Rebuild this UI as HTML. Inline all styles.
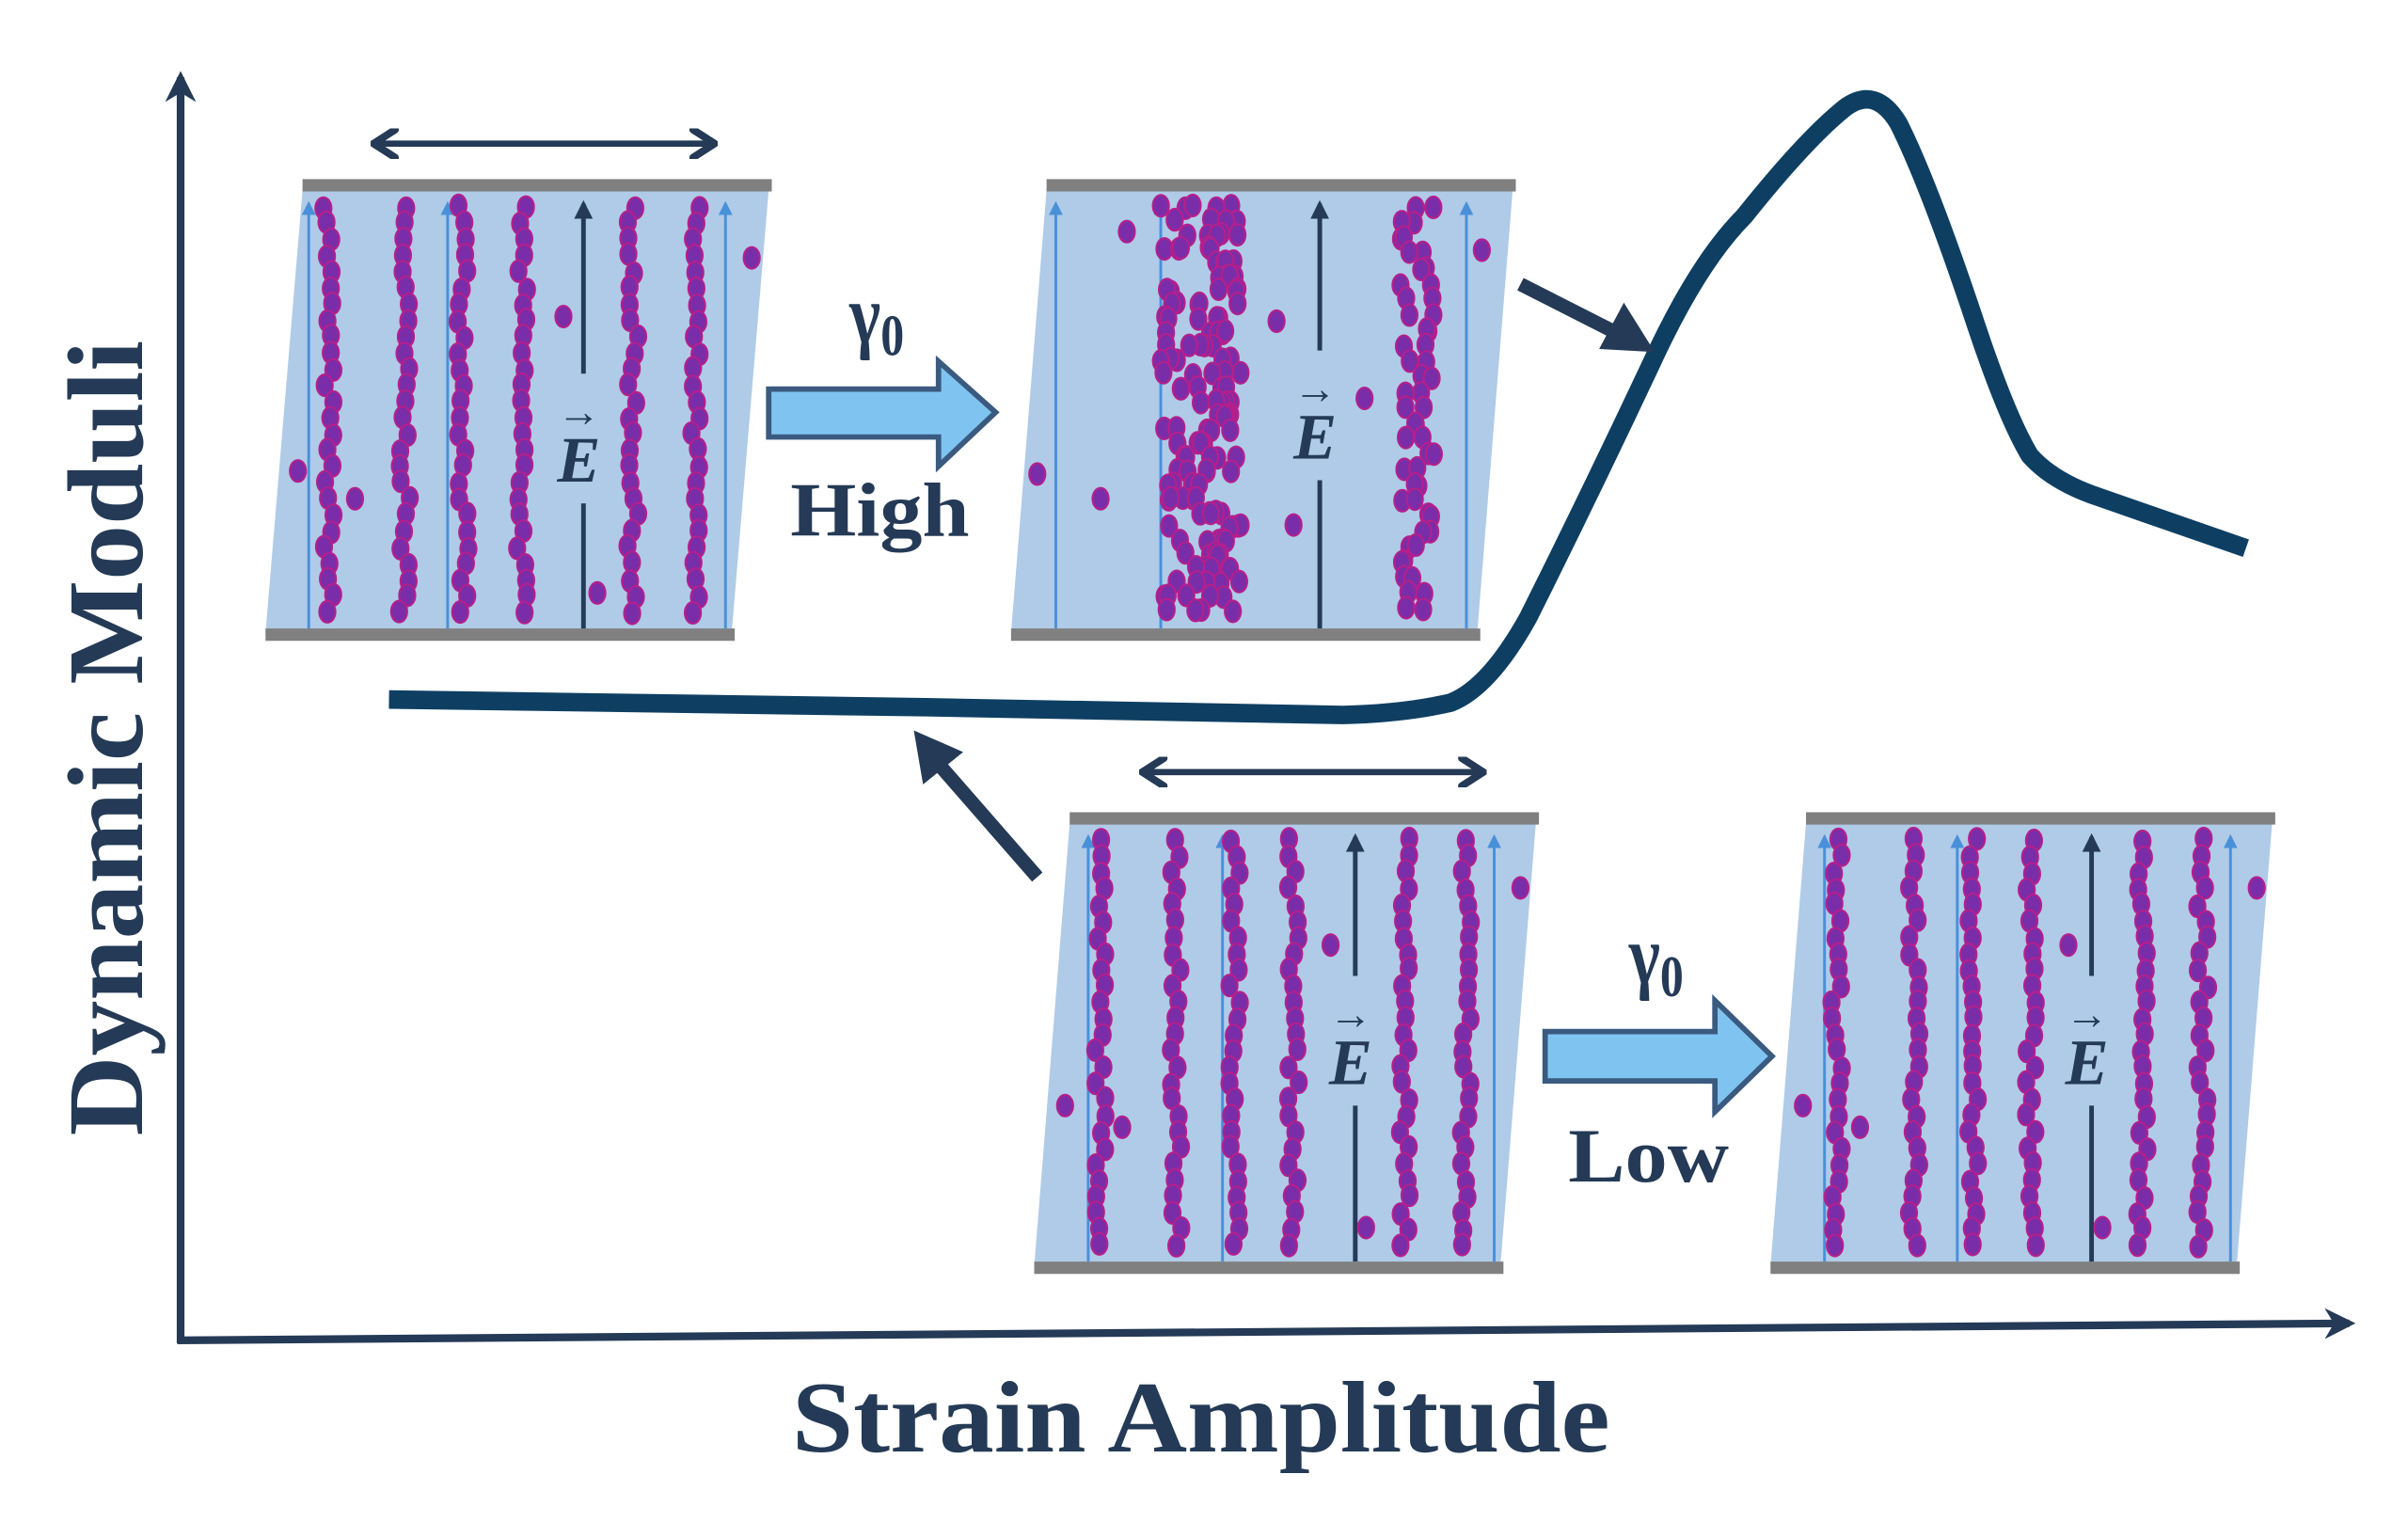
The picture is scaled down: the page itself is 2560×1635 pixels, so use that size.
<!DOCTYPE html>
<html><head><meta charset="utf-8"><style>
html,body{margin:0;padding:0;background:#fff;width:2560px;height:1635px;overflow:hidden}
svg{display:block}
text{font-family:"Liberation Serif",serif;font-weight:bold;fill:#243a56}
</style></head><body>
<svg id="s" width="2560" height="1635" viewBox="0 0 1560 996" preserveAspectRatio="none" xmlns="http://www.w3.org/2000/svg">
<defs>
<marker id="ah" viewBox="0 0 10 10" refX="8" refY="5" markerWidth="4" markerHeight="4" orient="auto-start-reverse"><path d="M0,0 L10,5 L0,10 L3,5 z" fill="#243a56"/></marker>
<marker id="da" viewBox="0 0 10 10" refX="9" refY="5" markerWidth="5" markerHeight="5" orient="auto-start-reverse"><path d="M2,0.5 L9,5 L2,9.5" fill="none" stroke="#243a56" stroke-width="2.4" stroke-linecap="round"/></marker>
<marker id="bl" viewBox="0 0 10 10" refX="8" refY="5" markerWidth="5" markerHeight="5" orient="auto"><path d="M0,0 L10,5 L0,10 z" fill="#4a90d9"/></marker>
<marker id="bk" viewBox="0 0 10 10" refX="8" refY="5" markerWidth="4" markerHeight="4" orient="auto"><path d="M0,0 L10,5 L0,10 z" fill="#243a56"/></marker>
</defs>
<line x1="117" y1="870" x2="117" y2="50" stroke="#243a56" stroke-width="5" marker-end="url(#ah)"/>
<line x1="115" y1="868" x2="1522" y2="857" stroke="#243a56" stroke-width="5" marker-end="url(#ah)"/>
<text transform="translate(92,478) rotate(-90)" text-anchor="middle" font-size="70" textLength="515" lengthAdjust="spacingAndGlyphs">Dynamic Moduli</text>
<text x="778" y="940" text-anchor="middle" font-size="66" textLength="530" lengthAdjust="spacingAndGlyphs">Strain Amplitude</text>
<g id="boxes"></g>
<path d="M252,453 L600,458 L870,463 Q910,462 940,455 Q965,445 990,400 Q1030,320 1070,235 Q1100,170 1130,140 Q1170,90 1195,70 Q1215,55 1230,80 Q1250,120 1280,210 Q1300,270 1315,295 Q1330,312 1360,322 L1455,355" fill="none" stroke="#0e3f63" stroke-width="12" stroke-linejoin="round"/>
<path d="M498,252 L608,252 L608,234 L645,267 L608,302 L608,283 L498,283 Z" fill="#7fc4f0" stroke="#3a5a80" stroke-width="3.5"/>
<path d="M1001,668 L1111,668 L1111,648 L1148,684 L1111,720 L1111,700 L1001,700 Z" fill="#7fc4f0" stroke="#3a5a80" stroke-width="3.5"/>
<text x="568" y="222" text-anchor="middle" font-size="54" transform="translate(568,0) scale(0.8,1) translate(-568,0)">γ<tspan font-size="38" dy="8">0</tspan></text>
<text x="570" y="347" text-anchor="middle" font-size="50" textLength="116" lengthAdjust="spacingAndGlyphs">High</text>
<text x="1073" y="637" text-anchor="middle" font-size="54" transform="translate(1073,0) scale(0.8,1) translate(-1073,0)">γ<tspan font-size="38" dy="8">0</tspan></text>
<text x="1068" y="765" text-anchor="middle" font-size="50" textLength="104" lengthAdjust="spacingAndGlyphs">Low</text>
<line x1="242" y1="93" x2="463" y2="93" stroke="#243a56" stroke-width="4" marker-start="url(#da)" marker-end="url(#da)"/>
<line x1="740" y1="500" x2="961" y2="500" stroke="#243a56" stroke-width="4" marker-start="url(#da)" marker-end="url(#da)"/>
<line x1="985" y1="184" x2="1048" y2="216" stroke="#243a56" stroke-width="9"/>
<polygon points="1072,228 1036,226 1052,196" fill="#243a56"/>
<line x1="672" y1="568" x2="610" y2="497" stroke="#243a56" stroke-width="9"/>
<polygon points="592,473 598,508 624,487" fill="#243a56"/>
</svg>
<script>
(function(){
var NS="http://www.w3.org/2000/svg",g=document.getElementById("boxes");
var seed=7;function r(){seed=(seed*16807)%2147483647;return seed/2147483647;}
function el(t,a){var e=document.createElementNS(NS,t);for(var k in a)e.setAttribute(k,a[k]);g.appendChild(e);return e;}
function dot(x,y){el("ellipse",{cx:x,cy:y,rx:5.2,ry:7,fill:"#7a2da8",stroke:"#b51f8c","stroke-width":1.3});}
function box(o){
 var tx=o.tx,bx=o.bx,ty=o.ty,by=o.by,w=302;
 el("polygon",{points:(tx)+","+(ty+3)+" "+(tx+w)+","+(ty+3)+" "+(bx+w)+","+by+" "+bx+","+by,fill:"#afcbe8"});
 el("rect",{x:tx,y:ty-4,width:w+2,height:8,fill:"#808080"});
 el("rect",{x:bx,y:by-3,width:w+2,height:8,fill:"#808080"});
 o.blue.forEach(function(x){el("line",{x1:x,y1:by-3,x2:x,y2:ty+12,stroke:"#4a90d9","stroke-width":1.8,"marker-end":"url(#bl)"});});
 var ex=o.ex;
 el("line",{x1:ex,y1:by-3,x2:ex,y2:ty+12,stroke:"#243a56","stroke-width":3,"marker-end":"url(#bk)"});
 o.cols.forEach(function(c){
   var y=ty+14;
   while(y<by-6){
     var n=c.n||1;
     for(var i=0;i<n;i++){
      var xx=(n>1)?c.x+(r()-0.5)*(c.j||10):c.x+(r()-0.5)*7;
      dot(xx,y+(r()-0.5)*2);
     }
     y+=c.d||10.5;
   }
 });
 o.stray.forEach(function(p){dot(p[0],p[1]);});
 el("rect",{x:ex-16,y:o.ey-48,width:32,height:84,fill:"#afcbe8"});
 var t=el("text",{x:ex-3,y:o.ey+22,"text-anchor":"middle","font-size":42,"font-style":"italic"});t.textContent="E";
 var a=el("text",{x:ex-3,y:o.ey-14,"text-anchor":"middle","font-size":28,"font-weight":"normal"});a.textContent="→";
}
var cols1=[{x:213},{x:262},{x:300},{x:338},{x:410},{x:450}];
box({tx:196,bx:172,ty:120,by:410,blue:[200,290,470],ex:378,ey:290,cols:cols1,stray:[[193,305],[230,323],[365,205],[487,167],[387,384]]});
box({tx:678,bx:655,ty:120,by:410,blue:[684,752,950],ex:855,ey:275,
 cols:[{x:778,n:5,j:52,d:9},{x:918,n:2,j:22,d:10}],stray:[[730,150],[827,208],[884,258],[672,307],[713,323],[838,340],[960,162]]});
var cols3=[{x:713},{x:762},{x:800},{x:838},{x:910},{x:950}];
box({tx:693,bx:670,ty:530,by:820,blue:[705,792,968],ex:878,ey:680,cols:cols3,stray:[[690,716],[727,730],[862,612],[985,575],[885,795]]});
var cols4=[{x:1190},{x:1240},{x:1278},{x:1316},{x:1388},{x:1427}];
box({tx:1170,bx:1147,ty:530,by:820,blue:[1182,1268,1445],ex:1355,ey:680,cols:cols4,stray:[[1168,716],[1205,730],[1340,612],[1462,575],[1362,795]]});
})();
</script>
</body></html>
